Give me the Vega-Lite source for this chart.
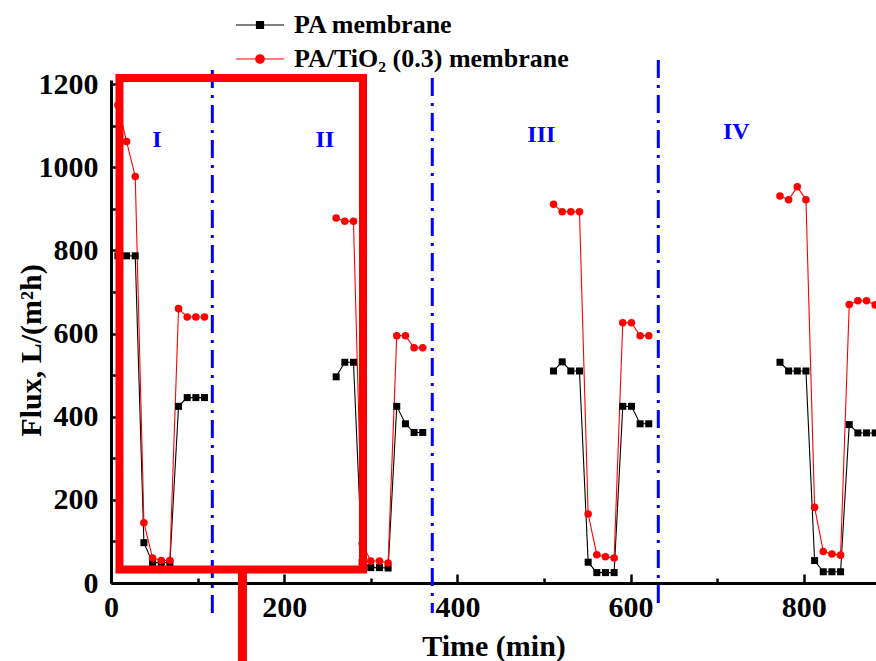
{
  "$schema": "https://vega.github.io/schema/vega-lite/v6.json",
  "width": 765,
  "height": 503,
  "autosize": {"type": "none"},
  "padding": {"left": 111, "top": 80, "right": 0, "bottom": 78},
  "background": "white",
  "config": {"view": {"stroke": null}, "font": "Liberation Serif"},
  "datasets": {
    "flux": [
      {"series": "PA membrane", "cycle": 1, "t": 8, "v": 787},
      {"series": "PA membrane", "cycle": 1, "t": 18, "v": 787},
      {"series": "PA membrane", "cycle": 1, "t": 28, "v": 787},
      {"series": "PA membrane", "cycle": 1, "t": 38, "v": 97},
      {"series": "PA membrane", "cycle": 1, "t": 48, "v": 49},
      {"series": "PA membrane", "cycle": 1, "t": 58, "v": 49},
      {"series": "PA membrane", "cycle": 1, "t": 68, "v": 49},
      {"series": "PA membrane", "cycle": 1, "t": 78, "v": 425},
      {"series": "PA membrane", "cycle": 1, "t": 88, "v": 446},
      {"series": "PA membrane", "cycle": 1, "t": 98, "v": 446},
      {"series": "PA membrane", "cycle": 1, "t": 108, "v": 446},
      {"series": "PA membrane", "cycle": 2, "t": 260, "v": 496},
      {"series": "PA membrane", "cycle": 2, "t": 270, "v": 531},
      {"series": "PA membrane", "cycle": 2, "t": 280, "v": 531},
      {"series": "PA membrane", "cycle": 2, "t": 290, "v": 50},
      {"series": "PA membrane", "cycle": 2, "t": 300, "v": 37},
      {"series": "PA membrane", "cycle": 2, "t": 310, "v": 37},
      {"series": "PA membrane", "cycle": 2, "t": 320, "v": 36},
      {"series": "PA membrane", "cycle": 2, "t": 330, "v": 425},
      {"series": "PA membrane", "cycle": 2, "t": 340, "v": 383},
      {"series": "PA membrane", "cycle": 2, "t": 350, "v": 362},
      {"series": "PA membrane", "cycle": 2, "t": 360, "v": 362},
      {"series": "PA membrane", "cycle": 3, "t": 511, "v": 510},
      {"series": "PA membrane", "cycle": 3, "t": 521, "v": 532},
      {"series": "PA membrane", "cycle": 3, "t": 531, "v": 510},
      {"series": "PA membrane", "cycle": 3, "t": 541, "v": 510},
      {"series": "PA membrane", "cycle": 3, "t": 551, "v": 50},
      {"series": "PA membrane", "cycle": 3, "t": 561, "v": 25},
      {"series": "PA membrane", "cycle": 3, "t": 571, "v": 25},
      {"series": "PA membrane", "cycle": 3, "t": 581, "v": 25},
      {"series": "PA membrane", "cycle": 3, "t": 591, "v": 425},
      {"series": "PA membrane", "cycle": 3, "t": 601, "v": 425},
      {"series": "PA membrane", "cycle": 3, "t": 611, "v": 383},
      {"series": "PA membrane", "cycle": 3, "t": 621, "v": 383},
      {"series": "PA membrane", "cycle": 4, "t": 772.5, "v": 531},
      {"series": "PA membrane", "cycle": 4, "t": 782.5, "v": 510},
      {"series": "PA membrane", "cycle": 4, "t": 792.5, "v": 510},
      {"series": "PA membrane", "cycle": 4, "t": 802.5, "v": 510},
      {"series": "PA membrane", "cycle": 4, "t": 812.5, "v": 54},
      {"series": "PA membrane", "cycle": 4, "t": 822.5, "v": 27},
      {"series": "PA membrane", "cycle": 4, "t": 832.5, "v": 27},
      {"series": "PA membrane", "cycle": 4, "t": 842.5, "v": 27},
      {"series": "PA membrane", "cycle": 4, "t": 852.5, "v": 381},
      {"series": "PA membrane", "cycle": 4, "t": 862.5, "v": 361},
      {"series": "PA membrane", "cycle": 4, "t": 872.5, "v": 361},
      {"series": "PA membrane", "cycle": 4, "t": 882.5, "v": 361},
      {"series": "PA/TiO₂ (0.3) membrane", "cycle": 1, "t": 8, "v": 1150},
      {"series": "PA/TiO₂ (0.3) membrane", "cycle": 1, "t": 18, "v": 1062},
      {"series": "PA/TiO₂ (0.3) membrane", "cycle": 1, "t": 28, "v": 978},
      {"series": "PA/TiO₂ (0.3) membrane", "cycle": 1, "t": 38, "v": 145},
      {"series": "PA/TiO₂ (0.3) membrane", "cycle": 1, "t": 48, "v": 60},
      {"series": "PA/TiO₂ (0.3) membrane", "cycle": 1, "t": 58, "v": 54},
      {"series": "PA/TiO₂ (0.3) membrane", "cycle": 1, "t": 68, "v": 54},
      {"series": "PA/TiO₂ (0.3) membrane", "cycle": 1, "t": 78, "v": 660},
      {"series": "PA/TiO₂ (0.3) membrane", "cycle": 1, "t": 88, "v": 640},
      {"series": "PA/TiO₂ (0.3) membrane", "cycle": 1, "t": 98, "v": 640},
      {"series": "PA/TiO₂ (0.3) membrane", "cycle": 1, "t": 108, "v": 640},
      {"series": "PA/TiO₂ (0.3) membrane", "cycle": 2, "t": 260, "v": 878},
      {"series": "PA/TiO₂ (0.3) membrane", "cycle": 2, "t": 270, "v": 870},
      {"series": "PA/TiO₂ (0.3) membrane", "cycle": 2, "t": 280, "v": 870},
      {"series": "PA/TiO₂ (0.3) membrane", "cycle": 2, "t": 290, "v": 95},
      {"series": "PA/TiO₂ (0.3) membrane", "cycle": 2, "t": 300, "v": 53},
      {"series": "PA/TiO₂ (0.3) membrane", "cycle": 2, "t": 310, "v": 53},
      {"series": "PA/TiO₂ (0.3) membrane", "cycle": 2, "t": 320, "v": 48},
      {"series": "PA/TiO₂ (0.3) membrane", "cycle": 2, "t": 330, "v": 595},
      {"series": "PA/TiO₂ (0.3) membrane", "cycle": 2, "t": 340, "v": 595},
      {"series": "PA/TiO₂ (0.3) membrane", "cycle": 2, "t": 350, "v": 566},
      {"series": "PA/TiO₂ (0.3) membrane", "cycle": 2, "t": 360, "v": 566},
      {"series": "PA/TiO₂ (0.3) membrane", "cycle": 3, "t": 511, "v": 911},
      {"series": "PA/TiO₂ (0.3) membrane", "cycle": 3, "t": 521, "v": 893},
      {"series": "PA/TiO₂ (0.3) membrane", "cycle": 3, "t": 531, "v": 893},
      {"series": "PA/TiO₂ (0.3) membrane", "cycle": 3, "t": 541, "v": 893},
      {"series": "PA/TiO₂ (0.3) membrane", "cycle": 3, "t": 551, "v": 166},
      {"series": "PA/TiO₂ (0.3) membrane", "cycle": 3, "t": 561, "v": 68},
      {"series": "PA/TiO₂ (0.3) membrane", "cycle": 3, "t": 571, "v": 63},
      {"series": "PA/TiO₂ (0.3) membrane", "cycle": 3, "t": 581, "v": 60},
      {"series": "PA/TiO₂ (0.3) membrane", "cycle": 3, "t": 591, "v": 626},
      {"series": "PA/TiO₂ (0.3) membrane", "cycle": 3, "t": 601, "v": 626},
      {"series": "PA/TiO₂ (0.3) membrane", "cycle": 3, "t": 611, "v": 595},
      {"series": "PA/TiO₂ (0.3) membrane", "cycle": 3, "t": 621, "v": 595},
      {"series": "PA/TiO₂ (0.3) membrane", "cycle": 4, "t": 772.5, "v": 931},
      {"series": "PA/TiO₂ (0.3) membrane", "cycle": 4, "t": 782.5, "v": 922},
      {"series": "PA/TiO₂ (0.3) membrane", "cycle": 4, "t": 792.5, "v": 953},
      {"series": "PA/TiO₂ (0.3) membrane", "cycle": 4, "t": 802.5, "v": 922},
      {"series": "PA/TiO₂ (0.3) membrane", "cycle": 4, "t": 812.5, "v": 182},
      {"series": "PA/TiO₂ (0.3) membrane", "cycle": 4, "t": 822.5, "v": 76},
      {"series": "PA/TiO₂ (0.3) membrane", "cycle": 4, "t": 832.5, "v": 70},
      {"series": "PA/TiO₂ (0.3) membrane", "cycle": 4, "t": 842.5, "v": 67},
      {"series": "PA/TiO₂ (0.3) membrane", "cycle": 4, "t": 852.5, "v": 670},
      {"series": "PA/TiO₂ (0.3) membrane", "cycle": 4, "t": 862.5, "v": 679},
      {"series": "PA/TiO₂ (0.3) membrane", "cycle": 4, "t": 872.5, "v": 679},
      {"series": "PA/TiO₂ (0.3) membrane", "cycle": 4, "t": 882.5, "v": 669}
    ],
    "dividers": [
      {"t": 117, "v": 1234, "v2": -72},
      {"t": 371, "v": 1215, "v2": -72},
      {"t": 632, "v": 1258, "v2": -55}
    ],
    "stages": [
      {"t": 53, "v": 1066, "label": "I"},
      {"t": 247, "v": 1066, "label": "II"},
      {"t": 497, "v": 1078, "label": "III"},
      {"t": 722, "v": 1085, "label": "IV"}
    ],
    "box": [{"t": 9.8, "t2": 291, "v": 32.5, "v2": 1215}],
    "pointer": [{"t": 151.8, "v": 32.5, "v2": -200}]
  },
  "encoding": {
    "x": {
      "field": "t", "type": "quantitative",
      "scale": {"domain": [0, 883.4], "nice": false, "zero": false},
      "axis": {
        "title": "Time (min)",
        "values": [0, 100, 200, 300, 400, 500, 600, 700, 800],
        "labelExpr": "datum.value % 200 === 0 ? datum.label : ''",
        "grid": false, "labelFlush": false, "labelOverlap": false,
        "domainColor": "black", "domainWidth": 3,
        "tickColor": "black", "tickWidth": 2.5,
        "tickSize": {"condition": {"test": "datum.value % 200 === 0", "value": -9}, "value": -5},
        "labelPadding": 18,
        "labelFont": "Liberation Serif", "labelFontWeight": "bold", "labelFontSize": 30, "labelColor": "black",
        "titleFont": "Liberation Serif", "titleFontWeight": "bold", "titleFontSize": 30, "titleColor": "black",
        "titleY": 48, "titleBaseline": "top"
      }
    },
    "y": {
      "field": "v", "type": "quantitative",
      "scale": {"domain": [0, 1210], "nice": false, "zero": false},
      "axis": {
        "title": "Flux, L/(m²h)",
        "values": [0, 100, 200, 300, 400, 500, 600, 700, 800, 900, 1000, 1100, 1200],
        "labelExpr": "datum.value % 200 === 0 ? datum.label : ''",
        "format": "d",
        "grid": false, "labelOverlap": false, "labelFlush": false,
        "domainColor": "black", "domainWidth": 3,
        "tickColor": "black", "tickWidth": 2.5,
        "tickSize": {"condition": {"test": "datum.value % 200 === 0", "value": -9}, "value": -6},
        "labelPadding": 22,
        "labelFont": "Liberation Serif", "labelFontWeight": "bold", "labelFontSize": 30, "labelColor": "black",
        "titleFont": "Liberation Serif", "titleFontWeight": "bold", "titleFontSize": 30, "titleColor": "black",
        "titleX": -65, "titleY": 270, "titleAngle": -90, "titleBaseline": "bottom", "titleAlign": "center"
      }
    }
  },
  "layer": [
    {
      "data": {"name": "dividers"},
      "mark": {"type": "rule", "color": "#0000ff", "strokeWidth": 3, "strokeDash": [18, 7, 3, 7]},
      "encoding": {"y2": {"field": "v2"}}
    },
    {
      "data": {"name": "flux"},
      "mark": {"type": "line", "strokeWidth": 1.1},
      "encoding": {
        "color": {
          "field": "series", "type": "nominal",
          "scale": {"domain": ["PA membrane", "PA/TiO₂ (0.3) membrane"], "range": ["#000000", "#ff0000"]},
          "legend": {
            "orient": "none", "legendX": 135.5, "legendY": -68.5, "title": null, "padding": 0,
            "labelFont": "Liberation Serif", "labelFontSize": 26, "labelFontWeight": "bold", "labelColor": "black",
            "labelLimit": 600,
            "symbolSize": 625, "labelOffset": 20.5, "rowPadding": 7, "symbolStrokeWidth": 1.2,
            "encode": {
              "symbols": {
                "update": {
                  "shape": {"signal": "datum.value === 'PA membrane' ? 'M-1.92,0H1.92M-0.28,-0.28H0.28V0.28H-0.28Z' : 'M-1.92,0H1.92M0.34,0A0.34,0.34,0,1,1,-0.34,0A0.34,0.34,0,1,1,0.34,0Z'"},
                  "fill": {"signal": "datum.value === 'PA membrane' ? '#000000' : '#ff0000'"},
                  "stroke": {"signal": "datum.value === 'PA membrane' ? '#000000' : '#ff0000'"},
                  "fillOpacity": {"value": 1},
                  "strokeWidth": {"value": 1.2}
                }
              }
            }
          }
        },
        "detail": {"field": "cycle", "type": "nominal"},
        "order": {"field": "t", "type": "quantitative"}
      }
    },
    {
      "data": {"name": "flux"},
      "transform": [{"filter": "datum.series === 'PA membrane'"}],
      "mark": {"type": "point", "shape": "square", "filled": true, "size": 49, "color": "#000000", "opacity": 1}
    },
    {
      "data": {"name": "flux"},
      "transform": [{"filter": "datum.series !== 'PA membrane'"}],
      "mark": {"type": "point", "shape": "circle", "filled": true, "size": 57, "color": "#ff0000", "opacity": 1}
    },
    {
      "data": {"name": "stages"},
      "mark": {"type": "text", "font": "Liberation Serif", "fontWeight": "bold", "fontSize": 24, "color": "#0000ff", "baseline": "middle", "align": "center"},
      "encoding": {"text": {"field": "label"}}
    },
    {
      "data": {"name": "box"},
      "mark": {"type": "rect", "filled": false, "stroke": "#ff0000", "strokeWidth": 8},
      "encoding": {"x2": {"field": "t2"}, "y2": {"field": "v2"}}
    },
    {
      "data": {"name": "pointer"},
      "mark": {"type": "rule", "color": "#ff0000", "strokeWidth": 9},
      "encoding": {"y2": {"field": "v2"}}
    }
  ]
}
